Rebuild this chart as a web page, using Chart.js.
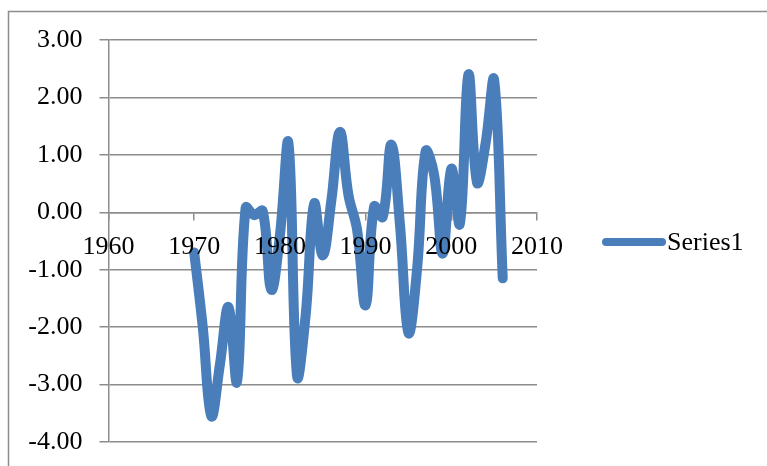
<!DOCTYPE html>
<html>
<head>
<meta charset="utf-8">
<script src="https://cdn.jsdelivr.net/npm/chart.js@4/dist/chart.umd.min.js"></script>
<style>
  html, body { margin: 0; padding: 0; background: #fff; }
  #wrap { width: 767px; height: 466px; }
</style>
</head>
<body>
<div id="wrap"><canvas id="myChart"></canvas></div>
<script>
let years = [1970, 1971, 1972, 1973, 1974, 1975, 1976, 1977, 1978, 1979,
             1980, 1981, 1982, 1983, 1984, 1985, 1986, 1987, 1988, 1989,
             1990, 1991, 1992, 1993, 1994, 1995, 1996, 1997, 1998, 1999,
             2000, 2001, 2002, 2003, 2004, 2005, 2006];
let values = [-0.70, -2.00, -3.55, -2.65, -1.65, -2.95, 0.08, -0.05, 0.02, -1.35,
              -0.40, 1.20, -2.85, -1.80, 0.15, -0.75, 0.20, 1.40, 0.30, -0.30,
              -1.62, 0.10, -0.08, 1.18, -0.20, -2.10, -1.00, 1.06, 0.65, -0.72,
              0.76, -0.20, 2.40, 0.52, 1.20, 2.30, -1.15];
let xTicks = [1960, 1970, 1980, 1990, 2000, 2010];
let yTicks = [-4, -3, -2, -1, 0, 1, 2, 3];
let seriesName = "Series1";

let lineColor = "#4a7ebb";
let gridColor = "#8c8c8c";
let font = { family: "'Liberation Serif', serif", size: 26 };

let points = [];
for (let i=0; i<years.length; i++){
    points[i] = { x: years[i], y: values[i] };
}

// white background plus the frame around the chart
const frame = {
    id: 'frame',
    beforeDraw(chart) {
        const ctx = chart.ctx;
        ctx.save();
        ctx.fillStyle = "#fff";
        ctx.fillRect(0, 0, chart.width, chart.height);
        ctx.strokeStyle = gridColor;
        ctx.lineWidth = 1.5;
        ctx.beginPath();
        ctx.moveTo(8.5, chart.height);
        ctx.lineTo(8.5, 11.5);
        ctx.lineTo(chart.width, 11.5);
        ctx.stroke();
        ctx.restore();
    }
};

// legend entry on the right
const sideLegend = {
    id: 'sideLegend',
    afterDraw(chart) {
        const ctx = chart.ctx;
        const y = 242;
        ctx.save();
        ctx.strokeStyle = lineColor;
        ctx.lineWidth = 8;
        ctx.lineCap = "round";
        ctx.beginPath();
        ctx.moveTo(606, y);
        ctx.lineTo(662, y);
        ctx.stroke();
        ctx.fillStyle = "#000";
        ctx.font = font.size + "px " + font.family;
        ctx.textBaseline = "middle";
        ctx.fillText(seriesName, 667, y + 1);
        ctx.restore();
    }
};

new Chart(document.getElementById("myChart"), {
    type: 'line',
    data: {
        datasets: [{
            label: seriesName,
            data: points,
            borderColor: lineColor,
            borderWidth: 10,
            borderCapStyle: 'round',
            borderJoinStyle: 'round',
            tension: 0.4,
            pointRadius: 0,
            fill: false
        }]
    },
    options: {
        responsive: true,
        maintainAspectRatio: false,
        animation: false,
        layout: { padding: { left: 0, top: 40, right: 230, bottom: 24 } },
        plugins: {
            legend: { display: false },
            tooltip: { enabled: false }
        },
        scales: {
            x: {
                type: 'linear',
                position: { y: 0 },
                min: 1960,
                max: 2010,
                afterBuildTicks: (scale) => { scale.ticks = xTicks.map(v => ({ value: v })); },
                // year labels sit on top of the line
                ticks: {
                    z: 1,
                    font: font,
                    color: "#000",
                    padding: 12,
                    maxRotation: 0,
                    autoSkip: false,
                    callback: (v) => String(v)
                },
                grid: { drawOnChartArea: false, drawTicks: true, tickLength: 7, color: gridColor, lineWidth: 1.5 },
                border: { color: gridColor, width: 1.5 }
            },
            y: {
                min: -4,
                max: 3,
                afterBuildTicks: (scale) => { scale.ticks = yTicks.map(v => ({ value: v })); },
                afterFit: (scale) => {
                    scale.width = 108.5;
                    scale.paddingTop = 0;
                    scale.paddingBottom = 0;
                },
                ticks: {
                    font: font,
                    color: "#000",
                    padding: 17,
                    callback: (v) => v.toFixed(2)
                },
                grid: { color: gridColor, lineWidth: 1.5, tickLength: 9 },
                border: { color: gridColor, width: 1.5 }
            }
        }
    },
    plugins: [frame, sideLegend]
});
</script>
</body>
</html>
